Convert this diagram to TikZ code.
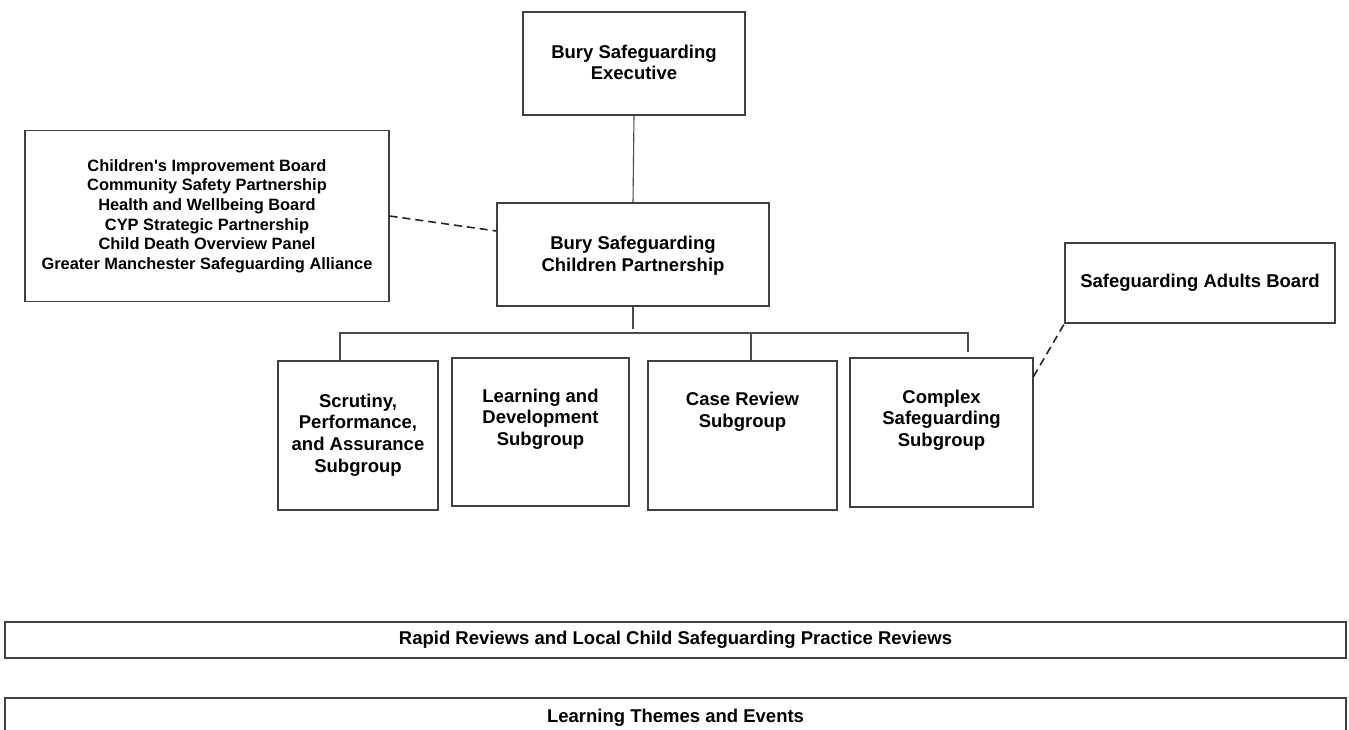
\documentclass[tikz,border=0pt]{standalone}
\usepackage{fontspec}
\setmainfont{Liberation Sans}[Ligatures=TeXOff]
\begin{document}
\begin{tikzpicture}[x=1pt,y=-1pt,
  box/.style={draw=black!75, line width=1.1pt, inner sep=0pt, fill=white},
  txt/.style={font=\bfseries\fontsize{18.5}{21.7}\selectfont, align=center, text=black, inner sep=0pt},
  smalltxt/.style={font=\bfseries\fontsize{16.4}{19.6}\selectfont, align=center, text=black, inner sep=0pt},
  conn/.style={draw=black!70, line width=1.1pt},
  dconn/.style={draw=black!85, line width=1.6pt, dash pattern=on 8pt off 5pt}]
\useasboundingbox[fill=white] (0,0) rectangle (1349,729);

% top nodes
\node[box, minimum width=222pt, minimum height=103pt] (exec) at (634,63.5) {};
\node[txt] (exect) at (634,62.5) {Bury Safeguarding\\Executive};

\node[box, minimum width=272pt, minimum height=103pt] (part) at (633,254.5) {};
\node[txt] (partt) at (633,256) {Bury Safeguarding\\Children Partnership};

\node[box, minimum width=364pt, minimum height=171pt] (left) at (207,216) {};
\node[smalltxt] (leftt) at (207,216) {Children's Improvement Board\\Community Safety Partnership\\Health and Wellbeing Board\\CYP Strategic Partnership\\Child Death Overview Panel\\Greater Manchester Safeguarding Alliance};

\node[box, minimum width=270pt, minimum height=80pt] (adults) at (1200,283) {};
\node[txt] (adultst) at (1200,283) {Safeguarding Adults Board};

% subgroups
\node[box, minimum width=160pt, minimum height=149pt] (scr) at (358,435.5) {};
\node[txt] (scrt) at (358,435) {Scrutiny,\\Performance,\\and Assurance\\Subgroup};

\node[box, minimum width=177pt, minimum height=148pt] (ld) at (540.5,432) {};
\node[txt] (ldt) at (540.5,419) {Learning and\\Development\\Subgroup};

\node[box, minimum width=189pt, minimum height=149pt] (cr) at (742.5,435.5) {};
\node[txt] (crt) at (742.5,412) {Case Review\\Subgroup};

\node[box, minimum width=183pt, minimum height=149pt] (cx) at (941.5,432.5) {};
\node[txt] (cxt) at (941.5,420) {Complex\\Safeguarding\\Subgroup};

% bottom bars
\node[box, minimum width=1341pt, minimum height=36pt] (rapid) at (675.5,640) {};
\node[txt] (rapidt) at (675.5,640) {Rapid Reviews and Local Child Safeguarding Practice Reviews};

\node[box, minimum width=1341pt, minimum height=62pt] (themes) at (675.5,729) {};
\node[txt] (themest) at (675.5,718) {Learning Themes and Events};

% connectors
\coordinate (bm) at (633,329);
\coordinate (bl) at (340,333);
\coordinate (br) at (968,333);
\coordinate (bre) at (968,352);
\coordinate (bcr) at (751,333);

\draw[conn] (exec.south) -- (part.north);
\draw[conn] (part.south) -- (bm);
\draw[conn] (scr.north -| bl) -- (bl) -- (br) -- (bre);
\draw[conn] (bcr) -- (bcr |- cr.north);

\draw[dconn] (left.east) -- ([yshift=23.5pt]part.west);
\draw[dconn] ([yshift=-19pt]cx.north east) -- (adults.south west);
\end{tikzpicture}
\end{document}
